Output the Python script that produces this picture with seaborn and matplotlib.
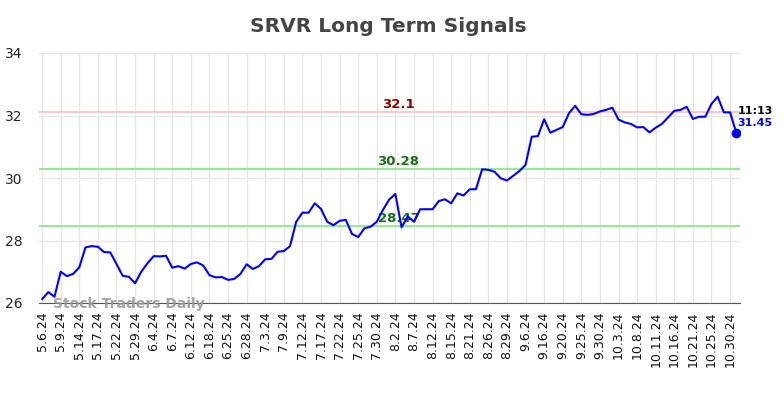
import pandas as pd
import seaborn as sns
import matplotlib.pyplot as plt
import numpy as np

# closing prices, one per trading day
prices = [26.12, 26.35, 26.2, 27.0, 26.86, 26.93, 27.14, 27.78, 27.82, 27.8,
          27.63, 27.62, 27.25, 26.87, 26.84, 26.63, 27.0, 27.27, 27.5, 27.49,
          27.51, 27.13, 27.18, 27.1, 27.25, 27.3, 27.2, 26.89, 26.82, 26.83,
          26.74, 26.77, 26.93, 27.24, 27.09, 27.18, 27.4, 27.41, 27.64, 27.66,
          27.82, 28.6, 28.89, 28.89, 29.19, 29.01, 28.6, 28.49, 28.63, 28.66,
          28.21, 28.11, 28.39, 28.44, 28.6, 28.98, 29.31, 29.49, 28.42, 28.77,
          28.6, 29.0, 29.0, 29.0, 29.26, 29.32, 29.19, 29.51, 29.44, 29.64,
          29.64, 30.28, 30.26, 30.2, 29.99, 29.92, 30.07, 30.22, 30.42, 31.32,
          31.34, 31.88, 31.45, 31.54, 31.63, 32.07, 32.31, 32.04, 32.02, 32.05,
          32.13, 32.18, 32.25, 31.87, 31.78, 31.73, 31.62, 31.63, 31.46, 31.61,
          31.73, 31.94, 32.15, 32.18, 32.28, 31.89, 31.96, 31.96, 32.37, 32.6,
          32.1, 32.1, 31.45]

tick_labels = ['5.6.24', '5.9.24', '5.14.24', '5.17.24', '5.22.24', '5.29.24',
               '6.4.24', '6.7.24', '6.12.24', '6.18.24', '6.25.24', '6.28.24',
               '7.3.24', '7.9.24', '7.12.24', '7.17.24', '7.22.24', '7.25.24',
               '7.30.24', '8.2.24', '8.7.24', '8.12.24', '8.15.24', '8.21.24',
               '8.26.24', '8.29.24', '9.6.24', '9.16.24', '9.20.24', '9.25.24',
               '9.30.24', '10.3.24', '10.8.24', '10.11.24', '10.16.24',
               '10.21.24', '10.25.24', '10.30.24']

resistance = 32.1
signal_mid = 30.28
support = 28.47
last_time = '11:13'

df = pd.DataFrame({'idx': np.arange(len(prices)), 'price': prices})

sns.set_style('white')
fig = plt.figure(figsize=(7.84, 3.98), dpi=100)
ax = fig.add_axes([39 / 784, 1 - 303 / 398, 701 / 784, 250 / 398])

# grid
tick_pos = np.arange(0, len(tick_labels) * 3, 3)
for t in tick_pos:
    ax.axvline(t, color='#e6e6e6', lw=1, zorder=0)
for yv in [26, 28, 30, 32, 34]:
    ax.axhline(yv, color='#e6e6e6', lw=1, zorder=0)

# signal levels
ax.axhline(resistance, color='#ffc8c8', lw=1.5, zorder=1)
ax.axhline(signal_mid, color='#98e898', lw=1.5, zorder=1)
ax.axhline(support, color='#98e898', lw=1.5, zorder=1)
lab_x = 57.5
ax.text(lab_x, resistance + 0.04, str(resistance), color='#8b0000', fontsize=9.5,
        fontweight='bold', ha='center', va='bottom')
ax.text(lab_x, signal_mid + 0.04, str(signal_mid), color='#1a6b1a', fontsize=9.5,
        fontweight='bold', ha='center', va='bottom')
ax.text(lab_x, support + 0.04, str(support), color='#1a6b1a', fontsize=9.5,
        fontweight='bold', ha='center', va='bottom')

sns.lineplot(data=df, x='idx', y='price', color='blue', lw=1.5, ax=ax, zorder=3)
ax.scatter([df['idx'].iloc[-1]], [prices[-1]], color='blue', s=36, zorder=4)

ax.text(df['idx'].iloc[-1] + 0.2, prices[-1] + 0.7, last_time, fontsize=8,
        fontweight='bold', color='black', va='center', ha='left')
ax.text(df['idx'].iloc[-1] + 0.2, prices[-1] + 0.32, f'{prices[-1]:.2f}', fontsize=8,
        fontweight='bold', color='blue', va='center', ha='left')

ax.text(1.8, 25.98, 'Stock Traders Daily', fontsize=10, fontweight='bold',
        color='#999999', alpha=0.9, ha='left', va='center')

ax.set_xlim(-0.5, 112.6)
ax.set_ylim(26, 34)
ax.set_yticks([26, 28, 30, 32, 34])
ax.set_xticks(tick_pos)
ax.set_xticklabels(tick_labels, rotation=90, fontsize=9, color='#111111')
ax.tick_params(axis='y', labelsize=10, length=0, pad=12)
ax.tick_params(axis='x', length=0, pad=6)
ax.set_xlabel('')
ax.set_ylabel('')
for s in ['top', 'right', 'left']:
    ax.spines[s].set_visible(False)
ax.spines['bottom'].set_color('#555555')

fig.text(0.495, 0.933, 'SRVR Long Term Signals', ha='center', va='center',
         fontsize=14.5, fontweight='bold', color='#444444')

fig.savefig('out.png', dpi=100)
